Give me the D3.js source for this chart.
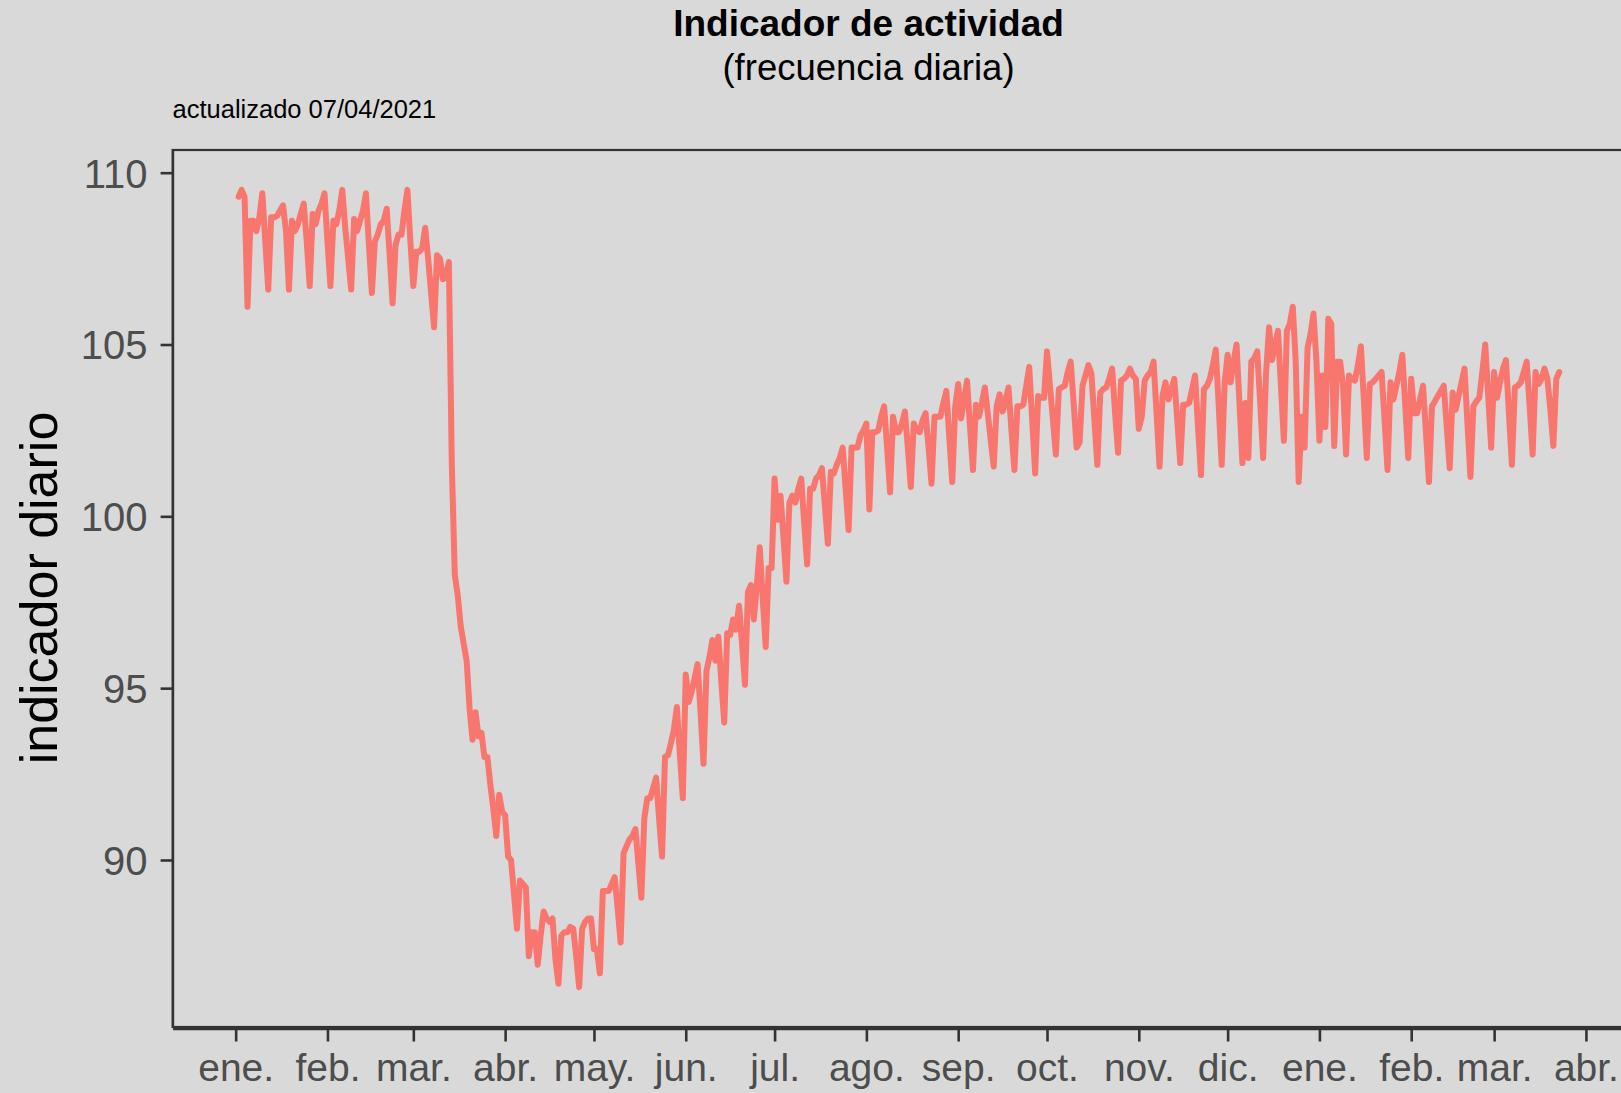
<!DOCTYPE html>
<html>
<head>
<meta charset="utf-8">
<script src="https://cdn.jsdelivr.net/npm/d3@7"></script>
<style>
    html, body { margin: 0; padding: 0; background: #d9d9d9; }
    svg { display: block; font-family: "Liberation Sans", Arial, sans-serif; }
</style>
</head>
<body>
<svg class="chart" width="1621" height="1093"></svg>
<script>

// serie diaria, desde el 02/01/2020
const inicio = new Date(2020, 0, 2);

const ene20 = [109.3, 109.5, 109.3, 106.1, 108.6, 108.6, 108.3, 108.7, 109.4, 108.0, 106.6, 108.7, 108.7, 108.75, 108.9, 109.05, 108.3, 106.6, 108.6, 108.3, 108.5, 108.8, 109.1, 108.0, 106.7, 108.8, 108.5, 108.9, 109.1, 109.4];
const feb20 = [108.0, 106.7, 108.6, 108.5, 108.9, 109.5, 108.4, 107.5, 106.6, 108.65, 108.3, 108.6, 108.9, 109.4, 107.9, 106.5, 108.0, 108.2, 108.5, 108.6, 108.95, 107.6, 106.2, 107.9, 108.2, 108.2, 108.9, 109.5, 108.0];
const mar20 = [106.7, 107.7, 107.7, 107.8, 108.4, 107.5, 106.5, 105.5, 107.6, 107.5, 106.9, 107.0, 107.4, 101.5, 98.3, 97.7, 96.8, 96.3, 95.8, 94.4, 93.5, 94.3, 93.6, 93.7, 93.0, 93.0, 92.2, 91.5, 90.7, 91.9, 91.4];
const abr20 = [91.3, 90.1, 90.0, 89.0, 88.0, 89.4, 89.3, 89.2, 87.2, 87.9, 87.9, 86.95, 87.8, 88.5, 88.3, 88.2, 88.3, 87.1, 86.4, 87.8, 87.9, 87.9, 88.05, 88.0, 87.2, 86.3, 88.0, 88.2, 88.3, 88.3];
const may20 = [87.4, 87.4, 86.7, 89.1, 89.1, 89.1, 89.3, 89.5, 88.6, 87.6, 90.2, 90.4, 90.6, 90.7, 90.9, 89.9, 88.9, 91.2, 91.8, 91.8, 92.1, 92.4, 91.2, 90.1, 93.0, 93.05, 93.4, 93.8, 94.45, 93.1, 91.8];
const jun20 = [95.4, 94.6, 94.9, 95.3, 95.7, 94.3, 92.8, 95.5, 95.9, 96.4, 95.8, 96.5, 95.2, 94.0, 96.6, 96.55, 97.0, 96.7, 97.4, 96.3, 95.1, 97.8, 98.0, 97.0, 98.0, 99.1, 97.6, 96.2, 98.5, 98.5];
const jul20 = [101.1, 99.9, 100.6, 99.4, 98.1, 100.4, 100.6, 100.4, 100.8, 101.1, 99.8, 98.6, 100.8, 100.8, 101.1, 101.2, 101.4, 100.3, 99.2, 101.3, 101.25, 101.5, 101.7, 102.0, 100.8, 99.6, 102.0, 102.0, 102.0, 102.35, 102.5];
const ago20 = [102.7, 100.2, 102.45, 102.45, 102.5, 102.9, 103.2, 102.0, 100.7, 102.9, 102.45, 102.45, 102.7, 103.05, 102.0, 100.85, 102.7, 102.5, 102.45, 102.8, 103.0, 102.0, 100.95, 102.9, 102.9, 102.9, 103.3, 103.65, 102.3, 101.0, 103.2];
const sep20 = [103.85, 102.85, 103.4, 103.95, 102.6, 101.35, 103.25, 102.9, 103.3, 103.75, 103.0, 102.2, 101.45, 103.2, 103.55, 103.05, 103.4, 103.75, 102.5, 101.35, 103.2, 103.2, 103.25, 103.8, 104.35, 102.8, 101.25, 103.5, 103.45, 103.45];
const oct20 = [104.8, 103.8, 102.8, 101.8, 103.7, 103.75, 103.8, 104.2, 104.5, 103.3, 102.0, 102.15, 103.8, 104.1, 104.4, 104.15, 102.8, 101.5, 103.6, 103.7, 103.75, 104.0, 104.3, 103.0, 101.85, 103.95, 104.0, 104.1, 104.3, 104.1, 104.0];
const nov20 = [102.55, 102.9, 103.95, 104.1, 104.2, 104.5, 103.0, 101.45, 103.5, 103.9, 103.4, 103.7, 104.0, 102.8, 101.55, 103.25, 103.25, 103.3, 103.7, 104.1, 102.6, 101.2, 103.7, 103.8, 104.0, 104.4, 104.85, 103.2, 101.5, 103.9];
const dic20 = [104.7, 103.9, 104.5, 105.0, 103.3, 101.55, 103.3, 101.7, 104.5, 104.6, 104.8, 103.3, 101.7, 104.2, 105.5, 104.55, 105.0, 105.4, 103.8, 102.2, 105.4, 105.6, 106.1, 104.5, 101.0, 102.9, 102.0, 104.9, 105.3, 105.9, 104.5];
const ene21 = [102.2, 104.1, 102.6, 105.75, 105.6, 102.05, 104.5, 104.5, 103.8, 101.8, 104.1, 104.0, 103.95, 104.4, 104.95, 103.4, 101.7, 103.85, 103.9, 104.0, 104.1, 104.2, 102.8, 101.35, 103.9, 103.4, 103.8, 104.2, 104.7, 103.2, 101.7];
const feb21 = [104.0, 103.0, 103.0, 103.4, 103.8, 102.4, 101.0, 103.2, 103.35, 103.5, 103.65, 103.8, 102.6, 101.4, 103.6, 103.1, 103.5, 103.9, 104.3, 102.7, 101.15, 103.2, 103.35, 103.45, 104.2, 105.0, 103.5, 102.0];
const mar21 = [104.2, 103.45, 103.9, 104.3, 104.55, 103.0, 101.5, 103.75, 103.8, 103.9, 104.2, 104.5, 103.2, 101.8, 104.2, 103.85, 104.0, 104.3, 104.0, 103.1, 102.05, 104.0, 104.2];

const meses = ["ene.", "feb.", "mar.", "abr.", "may.", "jun.", "jul.", "ago.", "sep.", "oct.", "nov.", "dic.", "ene.", "feb.", "mar.", "abr."];
const ticks_y = [90, 95, 100, 105, 110];

const titulo = "Indicador de actividad";
const subtitulo = "(frecuencia diaria)";
const nota = "actualizado 07/04/2021";
const eje_y = "indicador diario";


const main = {};

main.valores = [].concat(ene20, feb20, mar20, abr20, may20, jun20, jul20, ago20, sep20, oct20, nov20, dic20, ene21, feb21, mar21);

main.data = main.valores.map((v, i) => ({ fecha: d3.timeDay.offset(inicio, i), valor: v }));

const svg = d3.select('svg.chart');

const panel = { left: 172.6, right: 1625.3, top: 150, bottom: 1027 };

const ink = '#333333';
const gris = '#4d4d4d';

// ggplot-like 5% expansion on both scales
function expand(ext, f) {
    const span = ext[1] - ext[0];
    return [ext[0] - span * f, ext[1] + span * f];
}

const ext_x = d3.extent(main.data, d => d.fecha).map(d => +d);
const x = d3.scaleTime()
    .domain(expand(ext_x, 0.05).map(d => new Date(d)))
    .range([panel.left, panel.right]);

const y = d3.scaleLinear()
    .domain(expand(d3.extent(main.valores), 0.05))
    .range([panel.bottom, panel.top]);

svg.append('rect')
    .attr('width', 1621)
    .attr('height', 1093)
    .attr('fill', '#d9d9d9');

// titulos
svg.append('text')
    .attr('x', 868.5)
    .attr('y', 36)
    .attr('text-anchor', 'middle')
    .attr('font-size', 37)
    .attr('font-weight', 'bold')
    .attr('fill', '#000')
    .text(titulo);

svg.append('text')
    .attr('x', 868.5)
    .attr('y', 80)
    .attr('text-anchor', 'middle')
    .attr('font-size', 36.5)
    .attr('fill', '#000')
    .text(subtitulo);

svg.append('text')
    .attr('x', 172.5)
    .attr('y', 118)
    .attr('font-size', 25.5)
    .attr('fill', '#000')
    .text(nota);

// linea
const line = d3.line()
    .x(d => x(d.fecha))
    .y(d => y(d.valor));

svg.append('path')
    .datum(main.data)
    .attr('d', line)
    .attr('fill', 'none')
    .attr('stroke', '#f8766d')
    .attr('stroke-width', 6)
    .attr('stroke-linejoin', 'round')
    .attr('stroke-linecap', 'round');

// marco del panel
svg.append('rect')
    .attr('x', panel.left)
    .attr('y', panel.top)
    .attr('width', panel.right - panel.left + 10)
    .attr('height', panel.bottom - panel.top)
    .attr('fill', 'none')
    .attr('stroke', ink)
    .attr('stroke-width', 2.2);

// eje x
const meses_fechas = d3.timeMonth.range(new Date(2020, 0, 1), new Date(2021, 3, 2));

const axis_x = d3.axisBottom(x)
    .tickValues(meses_fechas)
    .tickFormat((d, i) => meses[i])
    .tickSize(13)
    .tickSizeOuter(0)
    .tickPadding(12);

const gx = svg.append('g')
    .attr('transform', `translate(0,${panel.bottom + 1.5})`)
    .call(axis_x);

gx.select('.domain')
    .attr('stroke', ink)
    .attr('stroke-width', 2.6);

gx.selectAll('.tick line')
    .attr('stroke', ink)
    .attr('stroke-width', 2.6);

gx.selectAll('.tick text')
    .attr('font-size', 39)
    .attr('font-family', '"Liberation Sans", Arial, sans-serif')
    .attr('fill', gris)
    .attr('dy', 0)
    .attr('y', 52);

// eje y
const axis_y = d3.axisLeft(y)
    .tickValues(ticks_y)
    .tickFormat(d3.format('d'))
    .tickSize(12)
    .tickSizeOuter(0)
    .tickPadding(12);

const gy = svg.append('g')
    .attr('transform', `translate(${panel.left},0)`)
    .call(axis_y);

gy.select('.domain')
    .attr('stroke', ink)
    .attr('stroke-width', 2.2);

gy.selectAll('.tick line')
    .attr('stroke', ink)
    .attr('stroke-width', 2.6);

gy.selectAll('.tick text')
    .attr('font-size', 40)
    .attr('font-family', '"Liberation Sans", Arial, sans-serif')
    .attr('fill', gris)
    .attr('x', -25)
    .attr('dy', '0.36em');

svg.append('text')
    .attr('transform', 'translate(57,588) rotate(-90)')
    .attr('text-anchor', 'middle')
    .attr('font-size', 52)
    .attr('fill', '#000')
    .text(eje_y);

</script>
</body>
</html>
